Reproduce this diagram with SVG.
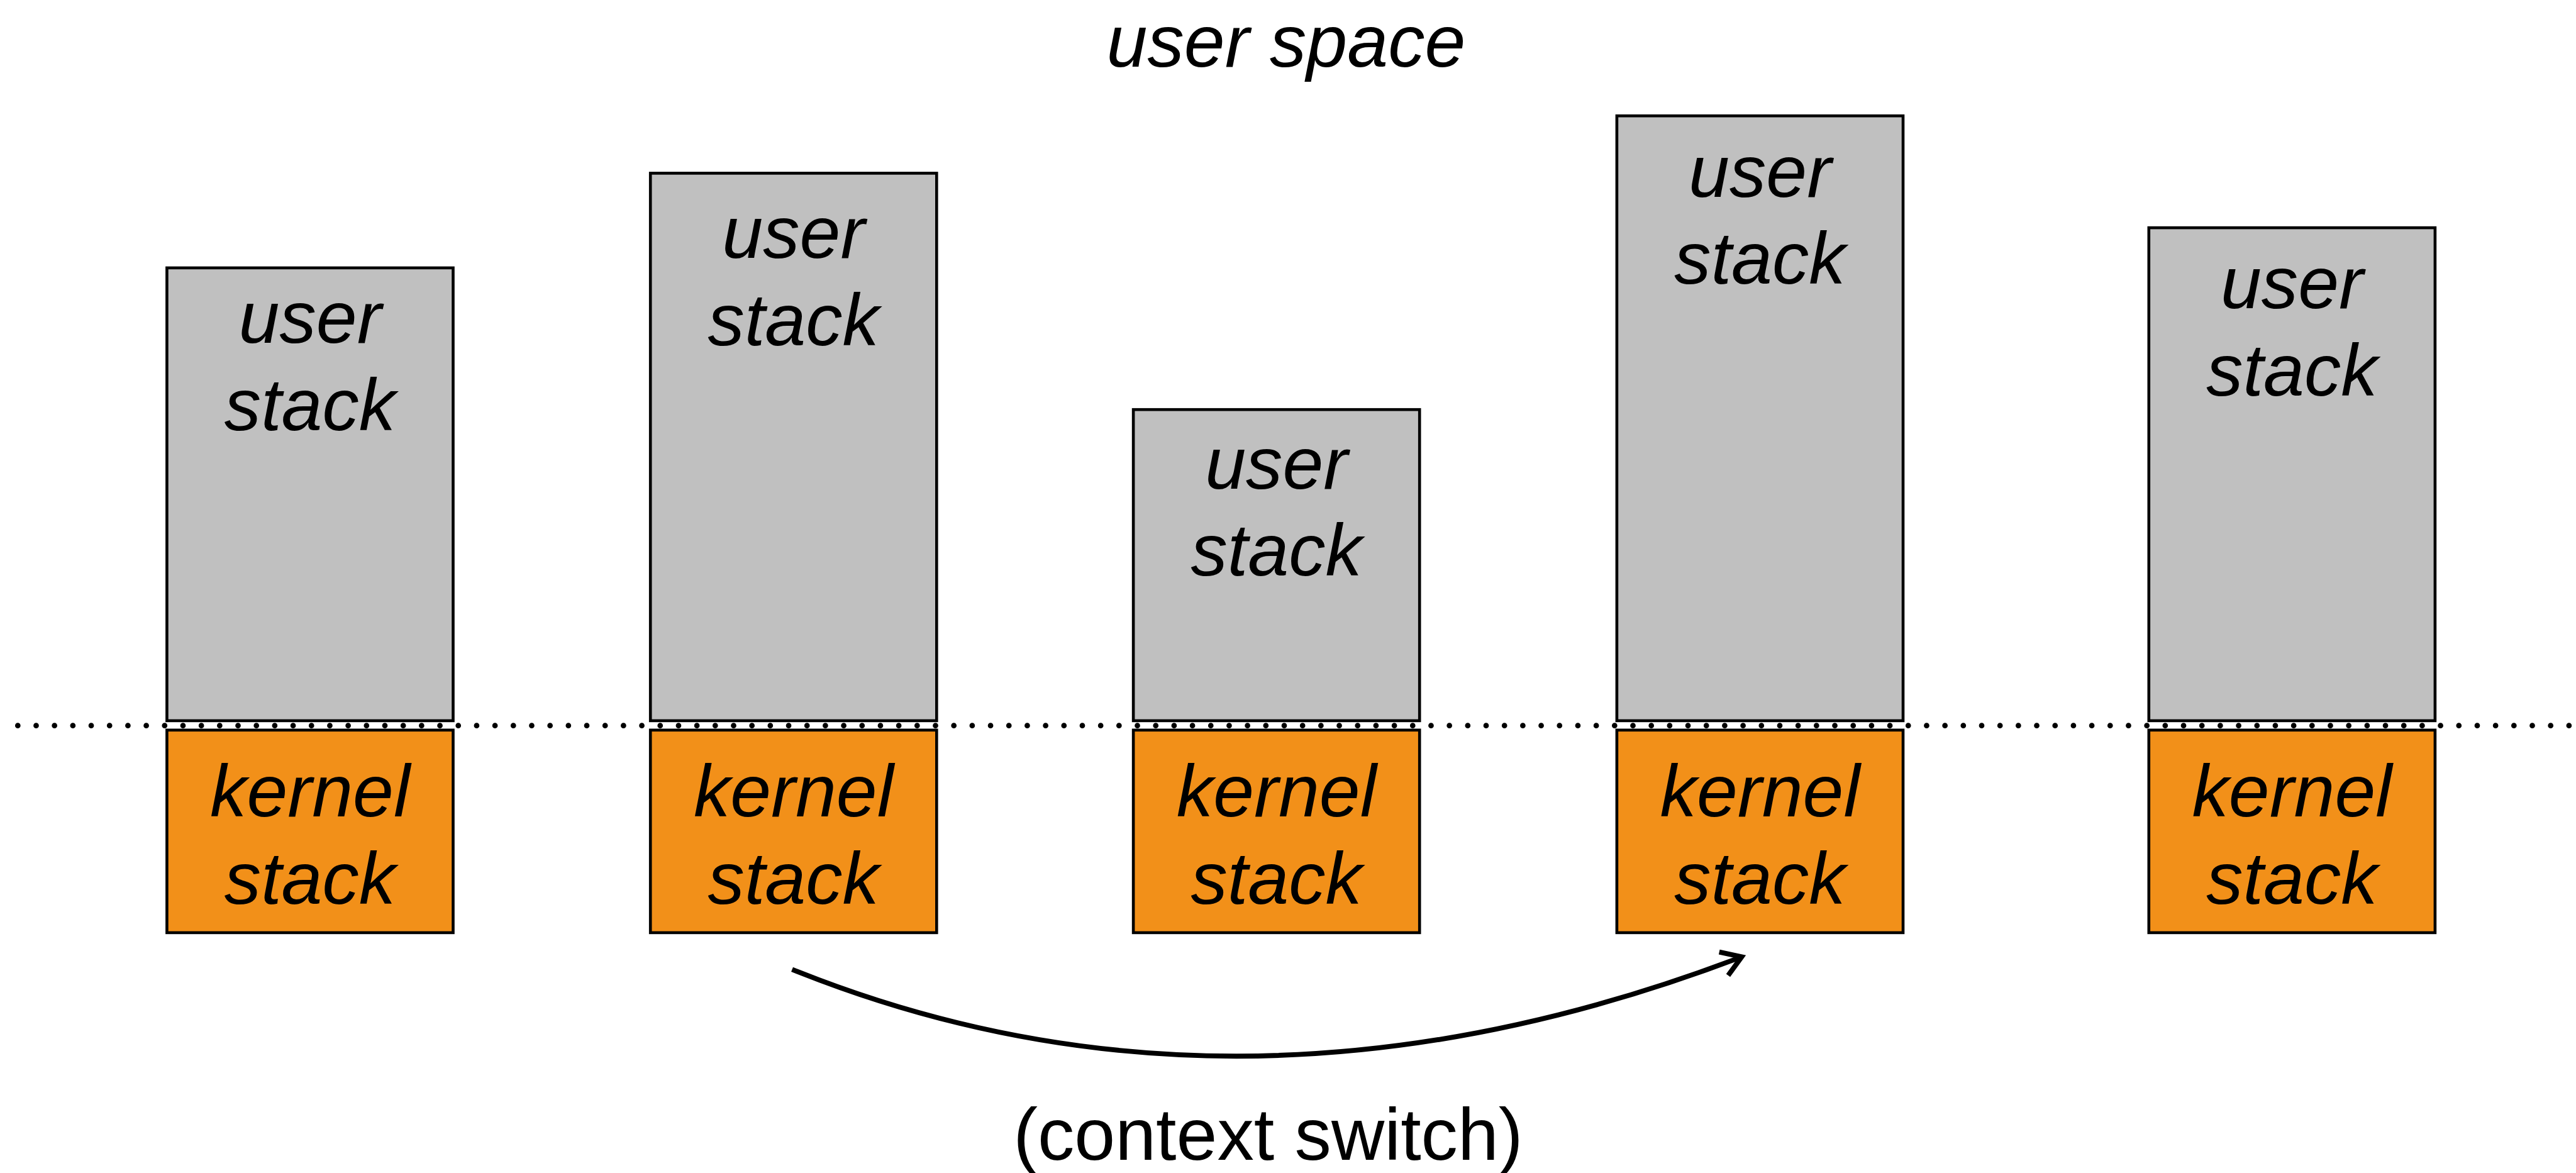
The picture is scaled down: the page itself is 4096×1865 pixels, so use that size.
<svg xmlns="http://www.w3.org/2000/svg" width="4096" height="1865" viewBox="0 0 4096 1865">
  <style>
    .user { fill: #c0c0c0; stroke: #000; stroke-width: 4.6; }
    .kern { fill: #f29019; stroke: #000; stroke-width: 4.6; }
    .lbl { font-family: "Liberation Sans", Arial, Helvetica, sans-serif; font-size: 116.7px; font-style: italic; fill: #000; text-anchor: middle; }
    .plain { font-family: "Liberation Sans", Arial, Helvetica, sans-serif; font-size: 116.7px; fill: #000; text-anchor: middle; }
    .dots { stroke: #000; stroke-width: 8.7; stroke-linecap: round; stroke-dasharray: 0 29.184; fill: none; }
    .conn { stroke: #000; stroke-width: 7.9; fill: none; }
  </style>
  <defs>
    <marker id="openArrow" markerUnits="userSpaceOnUse" viewBox="-50 -40 70 80" markerWidth="70" markerHeight="80" refX="0" refY="0" orient="auto" overflow="visible">
      <path d="M-30.6,-19.9 L0,0 L-30.6,19.9" fill="none" stroke="#000" stroke-width="7.9" stroke-linejoin="miter" stroke-linecap="butt"/>
    </marker>
  </defs>
  <rect width="4096" height="1865" fill="#fff"/>

  <text class="lbl" x="2045" y="106">user space</text>

  <g id="proc1">
    <rect class="user" x="265.4" y="425.9" width="455.1" height="720"/>
    <rect class="kern" x="265.4" y="1160.8" width="455.1" height="322.1"/>
    <text class="lbl" x="493" y="545.4">user</text>
    <text class="lbl" x="493" y="684">stack</text>
    <text class="lbl" x="493" y="1297.8">kernel</text>
    <text class="lbl" x="493" y="1437.3">stack</text>
  </g>
  <g id="proc2">
    <rect class="user" x="1034.2" y="275.4" width="455.1" height="870.5"/>
    <rect class="kern" x="1034.2" y="1160.8" width="455.1" height="322.1"/>
    <text class="lbl" x="1261.8" y="410.4">user</text>
    <text class="lbl" x="1261.8" y="549">stack</text>
    <text class="lbl" x="1261.8" y="1297.8">kernel</text>
    <text class="lbl" x="1261.8" y="1437.3">stack</text>
  </g>
  <g id="proc3">
    <rect class="user" x="1802.1" y="651.2" width="455.1" height="494.7"/>
    <rect class="kern" x="1802.1" y="1160.8" width="455.1" height="322.1"/>
    <text class="lbl" x="2029.7" y="776.8">user</text>
    <text class="lbl" x="2029.7" y="915">stack</text>
    <text class="lbl" x="2029.7" y="1297.8">kernel</text>
    <text class="lbl" x="2029.7" y="1437.3">stack</text>
  </g>
  <g id="proc4">
    <rect class="user" x="2570.9" y="184.2" width="455.1" height="961.7"/>
    <rect class="kern" x="2570.9" y="1160.8" width="455.1" height="322.1"/>
    <text class="lbl" x="2798.5" y="312.5">user</text>
    <text class="lbl" x="2798.5" y="450.8">stack</text>
    <text class="lbl" x="2798.5" y="1297.8">kernel</text>
    <text class="lbl" x="2798.5" y="1437.3">stack</text>
  </g>
  <g id="proc5">
    <rect class="user" x="3416.8" y="362.1" width="455.1" height="783.8"/>
    <rect class="kern" x="3416.8" y="1160.8" width="455.1" height="322.1"/>
    <text class="lbl" x="3644.4" y="489.5">user</text>
    <text class="lbl" x="3644.4" y="628.6">stack</text>
    <text class="lbl" x="3644.4" y="1297.8">kernel</text>
    <text class="lbl" x="3644.4" y="1437.3">stack</text>
  </g>

  <line id="boundary" class="dots" x1="28.3" y1="1153.7" x2="4096" y2="1153.7"/>

  <g id="connectors">
    <path class="conn" d="M1259.5,1541.3 Q1967.6,1826.7 2769.4,1521.4" marker-end="url(#openArrow)"/>
  </g>

  <text class="plain" x="2016.4" y="1843.8">(context switch)</text>
</svg>
